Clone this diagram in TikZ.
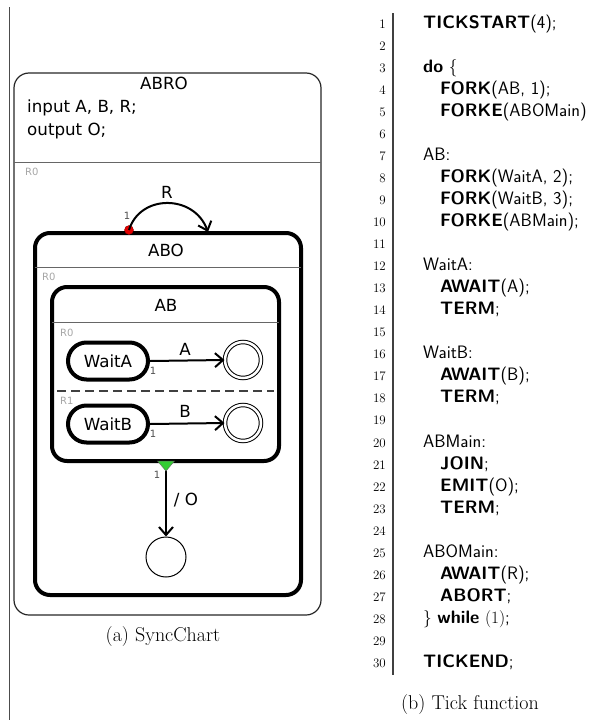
\documentclass[tikz,border=0pt]{standalone}
\usepackage{fontspec}
\newfontfamily\dv{DejaVu Sans}
\usetikzlibrary{arrows.meta,shapes.misc,shapes.geometric}
\tikzset{
  lbl/.style={font=\dv\fontsize{16.7}{19}\selectfont, inner sep=0pt},
  reg/.style={font=\dv\fontsize{10}{11}\selectfont, text=black!35, inner sep=0pt, anchor=west},
  prio/.style={font=\dv\fontsize{10}{11}\selectfont, text=black!70, inner sep=0pt},
  thickbox/.style={draw=black, line width=4pt, rounded corners=15pt},
  simple/.style={rounded rectangle, draw=black, line width=4pt, minimum width=80pt, minimum height=37pt, font=\dv\fontsize{16.7}{19}\selectfont, inner sep=0pt},
  finalst/.style={circle, draw=black, line width=1pt, double, double distance=2.5pt, minimum size=36pt, inner sep=0pt},
  plainst/.style={circle, draw=black, line width=1pt, minimum size=40pt, inner sep=0pt},
  trans/.style={draw=black, line width=2pt, -{Straight Barb[length=8pt,width=14pt,line width=2pt]}},
  sep/.style={draw=black!60, line width=1pt},
  codeln/.style={font=\fontsize{18}{22}\selectfont\sffamily, inner sep=0pt, anchor=base west},
  lnum/.style={font=\fontsize{13}{15}\selectfont, inner sep=0pt, anchor=base east},
  captext/.style={font=\fontsize{20}{24}\selectfont, inner sep=0pt}
}
\begin{document}
\begin{tikzpicture}[x=1pt,y=-1pt]
\useasboundingbox (0,0) rectangle (591,720);
% left rule
\draw[black!70, line width=1pt] (9.5,7) -- (9.5,720);
% ABRO
\draw[draw=black!85, line width=1.2pt, rounded corners=15pt] (14,73) rectangle (321,615);
\draw[sep] (14,162) -- (321,162);
\node[lbl] (abro) at (164,83) {ABRO};
\node[lbl, anchor=west] (decl1) at (27,108) {input A, B, R;};
\node[lbl, anchor=west] (decl2) at (27,131) {output O;};
\node[reg] (r0a) at (25,172) {R0};
% ABO
\draw[thickbox] (35,233) rectangle (301,595);
\draw[sep] (35,267) -- (301,267);
\node[lbl] (abo) at (166,250) {ABO};
\node[reg] (r0b) at (42,277) {R0};
% AB
\draw[thickbox] (52,287) rectangle (279,461);
\draw[sep] (52,322) -- (279,322);
\node[lbl] (ab) at (166,305) {AB};
\node[reg] (r0c) at (60,333) {R0};
\draw[black!75, line width=1.5pt, dash pattern=on 9pt off 5pt] (57,391) -- (274,391);
\node[reg] (r1c) at (60,401) {R1};
% states
\node[simple] (waita) at (108,361) {WaitA};
\node[finalst] (fina) at (243,360) {};
\node[simple] (waitb) at (108,424) {WaitB};
\node[finalst] (finb) at (243,423) {};
\node[plainst] (fino) at (166,557) {};
% transitions
\draw[trans] (waita.east) -- (fina.west);
\node[lbl] (la) at (185,349) {A};
\node[prio] (pa) at (153,371) {1};
\draw[trans] (waitb.east) -- (finb.west);
\node[lbl] (lb) at (185,411) {B};
\node[prio] (pb) at (153,434) {1};
% normal termination
\coordinate (trisrc) at (166,461);
\draw[trans] (trisrc) -- (fino.north);
\node[isosceles triangle, shape border rotate=-90, fill=green!75!black!80, draw=black!60, line width=0.4pt, minimum width=12pt, minimum height=10pt, inner sep=0pt, isosceles triangle apex angle=80] (tri) at (166,465) {};
\node[lbl] (lo) at (186,500) {/ O};
\node[prio] (po) at (157,475) {1};
% strong abort
\coordinate (rend) at (208,232);
\node[circle, fill=red!90!black, draw=red!60!black, line width=0.4pt, minimum size=9pt, inner sep=0pt] (rdot) at (129,230) {};
\draw[trans] (rdot.center) .. controls (140,194) and (194,194) .. (rend);
\node[lbl] (lr) at (167,192) {R};
\node[prio] (pr) at (127,216) {1};
% caption a
\node[captext] (capa) at (163,637) {(a) SyncChart};
% code
\draw[black!75, line width=2pt] (393,13) -- (393,675);
\foreach \n [count=\i] in {1,...,30} {
  \node[lnum] (n\i) at (386, 6+\i*22.05) {\n};
}
\node[codeln] (c1) at (423,28) {\textbf{TICKSTART}(4);};
\node[codeln] (c3) at (423,72) {\textbf{do} $\{$};
\node[codeln] (c4) at (440,94) {\textbf{FORK}(AB, 1);};
\node[codeln] (c5) at (440,116) {\textbf{FORKE}(ABOMain)};
\node[codeln] (c7) at (423,160) {AB:};
\node[codeln] (c8) at (440,182) {\textbf{FORK}(WaitA, 2);};
\node[codeln] (c9) at (440,204) {\textbf{FORK}(WaitB, 3);};
\node[codeln] (c10) at (440,226) {\textbf{FORKE}(ABMain);};
\node[codeln] (c12) at (423,270) {WaitA:};
\node[codeln] (c13) at (440,292) {\textbf{AWAIT}(A);};
\node[codeln] (c14) at (440,314) {\textbf{TERM};};
\node[codeln] (c16) at (423,358) {WaitB:};
\node[codeln] (c17) at (440,380) {\textbf{AWAIT}(B);};
\node[codeln] (c18) at (440,402) {\textbf{TERM};};
\node[codeln] (c20) at (423,447) {ABMain:};
\node[codeln] (c21) at (440,469) {\textbf{JOIN};};
\node[codeln] (c22) at (440,491) {\textbf{EMIT}(O);};
\node[codeln] (c23) at (440,513) {\textbf{TERM};};
\node[codeln] (c25) at (423,557) {ABOMain:};
\node[codeln] (c26) at (440,579) {\textbf{AWAIT}(R);};
\node[codeln] (c27) at (440,601) {\textbf{ABORT};};
\node[codeln] (c28) at (423,623) {$\}$ \textbf{while} $(1)$;};
\node[codeln] (c30) at (423,667) {\textbf{TICKEND};};
\node[captext] (capb) at (470,705) {(b) Tick function};
\end{tikzpicture}
\end{document}
